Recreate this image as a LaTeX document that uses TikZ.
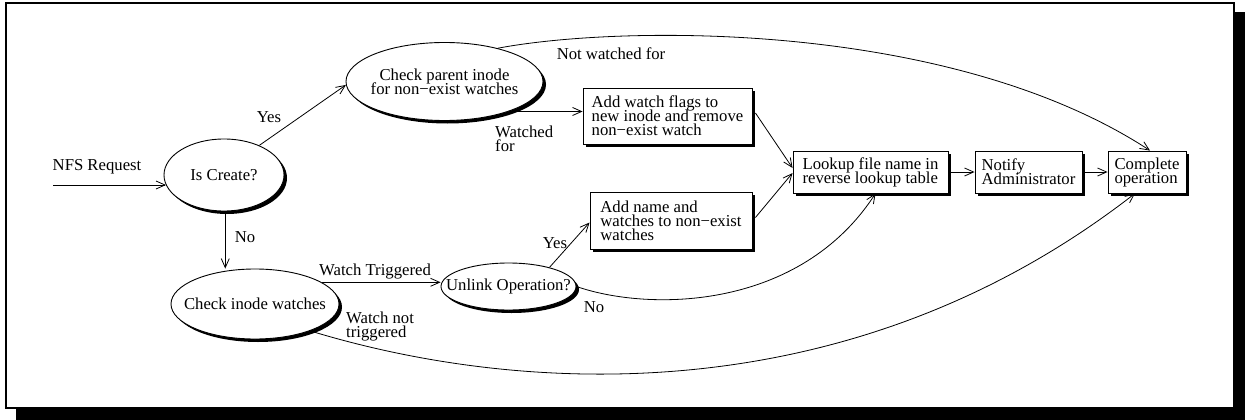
\documentclass[tikz,border=0pt]{standalone}
\usepackage{fontspec}
\setmainfont{Liberation Serif}
\usetikzlibrary{shapes.geometric,shadows,arrows.meta}
\lineskiplimit=-100pt
\begin{document}
\begin{tikzpicture}[x=1pt,y=-1pt,
  every node/.style={font=\fontsize{16.7}{14}\selectfont},
  shd/.style={drop shadow={shadow xshift=3pt,shadow yshift=-3pt,fill=black,opacity=1}},
  ell/.style={ellipse,draw,fill=white,line width=0.9pt,inner xsep=-20pt,inner ysep=0pt,align=center,shd},
  box/.style={rectangle,draw,fill=white,line width=0.9pt,inner sep=0pt,align=left,shd},
  lbl/.style={inner sep=0pt,align=left},
  arr/.style={line width=0.8pt,-{Straight Barb[length=9pt,width=8pt,line width=0.8pt]}},
  con/.style={line width=0.8pt}]
\useasboundingbox (0,0) rectangle (1245,420);
% frame with shadow
\fill (16,409) rectangle (1245,420);
\fill (1235,12) rectangle (1245,420);
\draw[line width=2pt] (6,3) rectangle (1234,408);

% nodes
\node[ell,minimum width=120pt,minimum height=72pt] (ic) at (224,175) {Is Create?};
\node[ell,minimum width=197pt,minimum height=78pt] (cp) at (444.5,81.5) {Check parent inode\\for non−exist watches};
\node[ell,minimum width=168pt,minimum height=70pt] (ci) at (255,304) {Check inode watches};
\node[ell,minimum width=135pt,minimum height=47pt] (uo) at (508.5,286.5) {Unlink Operation?};
\node[box,minimum width=169pt,minimum height=56pt] (b1) at (667.5,116) {Add watch flags to\\new inode and remove\\non−exist watch};
\node[box,minimum width=162pt,minimum height=57pt] (b2) at (671,220.5) {Add name and\\watches to non−exist\\watches};
\node[box,minimum width=155pt,minimum height=42pt] (lk) at (870.5,172) {Lookup file name in\\reverse lookup table};
\node[box,minimum width=107pt,minimum height=42pt] (nt) at (1028.5,172) {Notify\\Administrator};
\node[box,minimum width=78pt,minimum height=42pt] (co) at (1147,172) {Complete\\operation};

% labels
\node[lbl] (lnfs) at (97,167) {NFS Request};
\node[lbl] (lyes1) at (269,117) {Yes};
\node[lbl] (lno1) at (245,237) {No};
\node[lbl] (lwt) at (375,272) {Watch Triggered};
\node[lbl,anchor=west] (lwnt) at (346,327) {Watch not\\triggered};
\node[lbl] (lnwf) at (611,54) {Not watched for};
\node[lbl,anchor=west] (lwf) at (495,139) {Watched\\for};
\node[lbl] (lyes2) at (555,243) {Yes};
\node[lbl] (lno2) at (594,307) {No};

% connectors
\coordinate (nfsin) at (53,185);
\draw[arr] (nfsin) -- (nfsin -| ic.190);
\draw[arr] (ic.40) -- (cp.182);
\draw[arr] (ic.272) -- (ic.272 |- ci.north);
\draw[arr] (ci.18) -- (ci.18 -| uo.west);
\draw[arr] (cp.-25) -- (cp.-25 -| b1.west);
\draw[arr] (uo.25) -- ([yshift=-2pt]b2.west);
\draw[arr] ([xshift=3pt,yshift=3pt]b1.east) -- ([yshift=4pt]lk.west);
\draw[arr] ([xshift=3pt,yshift=3pt]b2.east) -- ([yshift=-1pt]lk.west);
\draw[arr] ([xshift=3pt]lk.east) -- (nt.west);
\draw[arr] ([xshift=3pt]nt.east) -- (co.west);
\draw[arr] (uo.east) .. controls (650,312) and (800,310) .. ([xshift=5pt]lk.south);
\draw[arr] (cp.32) .. controls (620,25) and (950,20) .. ([xshift=3pt]co.north);
\draw[arr] (ci.-26) .. controls (520,395) and (850,415) .. ([xshift=-12pt]co.south);
\end{tikzpicture}
\end{document}
